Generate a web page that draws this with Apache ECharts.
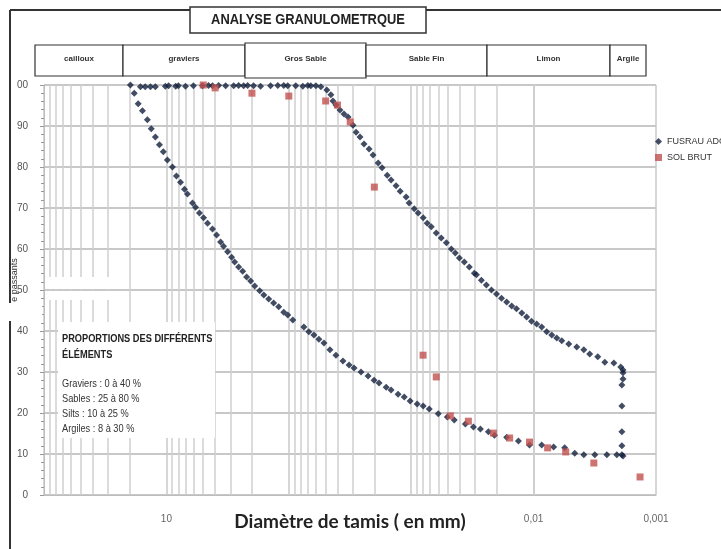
<!DOCTYPE html>
<html>
<head>
<meta charset="utf-8">
<script src="https://cdn.jsdelivr.net/npm/echarts@6/dist/echarts.min.js"></script>
<style>
html,body{margin:0;padding:0;background:#fff;}
#main{width:721px;height:549px;}
</style>
</head>
<body>
<div id="main"></div>
<script>
// diametre (mm) / % passants - FUSRAU ADOBE
var fusrauX = [
  19.7, 16.3, 14.9, 13.5, 12.3, 10.2, 9.6, 8.4, 7.98, 6.98, 6.01, 5.07, 4.53, 4.20, 3.75, 3.28,
  2.82, 2.57, 2.34, 2.17, 1.94, 1.70, 1.41, 1.23, 1.10, 1.02, 0.877, 0.768, 0.699, 0.661, 0.601, 0.547,
  0.489, 0.453, 0.436, 0.412, 0.382, 0.354, 0.328, 0.299, 0.282, 0.262, 0.243, 0.221, 0.205, 0.186,
  0.173, 0.157, 0.146, 0.133, 0.123, 0.110, 0.104, 0.0944, 0.0877, 0.0798, 0.0740, 0.0686, 0.0624,
  0.0568, 0.0516, 0.0470, 0.0436, 0.0404, 0.0368, 0.0335, 0.0305, 0.0293, 0.0267, 0.0243, 0.0221,
  0.0201, 0.0183, 0.0166, 0.0151, 0.0138, 0.0125, 0.0114, 0.0104, 0.00944, 0.00859, 0.00782, 0.00711,
  0.00647, 0.00589, 0.00516, 0.00444, 0.00389, 0.00348, 0.00299, 0.00262, 0.00221, 0.00194,
  0.00186, 0.00186, 0.00186, 0.0019, 0.0019, 0.0019, 0.0019, 0.0019, 0.00186,
  0.00209, 0.00252, 0.00316, 0.00389, 0.00461, 0.00557, 0.00686, 0.00859, 0.0108, 0.0133, 0.0166,
  0.0209, 0.0234, 0.0272, 0.0310, 0.0361, 0.0445, 0.0507, 0.0601, 0.0712, 0.0798, 0.0893, 0.102,
  0.114, 0.128, 0.146, 0.160, 0.183, 0.201, 0.225, 0.257, 0.293, 0.322, 0.361, 0.412, 0.461, 0.516,
  0.568, 0.624, 0.686, 0.753, 0.927, 1.02, 1.10, 1.21, 1.33, 1.46, 1.60, 1.73, 1.90, 2.05, 2.21,
  2.38, 2.57, 2.77, 2.93, 3.16, 3.41, 3.61, 3.89, 4.20, 4.61, 4.97, 5.37, 5.78, 6.12, 6.73, 7.11,
  7.67, 8.28, 8.93, 9.82, 10.6, 11.4, 12.3, 13.3, 14.3, 15.7, 17.0, 18.3
];
var fusrauY = [
  100, 99.6, 99.6, 99.6, 99.6, 99.7, 99.8, 99.7, 99.8, 99.7, 99.8, 99.8, 99.9, 99.8, 99.9, 99.8,
  99.8, 99.9, 99.8, 99.9, 99.8, 99.7, 99.8, 99.9, 99.9, 99.8, 99.8, 99.7, 99.9, 99.8, 99.8, 99.6,
  98.8, 97.6, 96.1, 95.1, 93.9, 92.9, 92.2, 90.2, 88.5, 87.3, 85.6, 84.4, 82.9, 81.0,
  79.8, 78.0, 76.8, 75.4, 74.1, 72.7, 71.2, 69.8, 68.8, 67.6, 66.3, 65.4, 63.9,
  62.7, 61.5, 60.0, 59.0, 57.8, 56.8, 55.6, 54.1, 53.7, 52.4, 51.2, 50.0,
  49.0, 48.0, 47.1, 46.1, 45.4, 44.4, 43.4, 42.4, 41.7, 41.0, 39.8, 39.0,
  38.3, 37.6, 36.8, 36.1, 35.4, 34.4, 33.7, 32.4, 32.2, 31.2,
  30.5, 29.8, 28.3, 26.8, 21.7, 15.4, 12.0, 9.8, 9.5,
  9.8, 9.8, 9.8, 9.8, 10.2, 11.5, 11.7, 12.2, 12.2, 13.2, 14.1,
  14.6, 15.4, 16.1, 16.6, 17.3, 18.3, 19.0, 19.8, 21.0, 21.7, 22.2, 22.9,
  23.9, 24.6, 25.6, 26.3, 27.3, 28.0, 29.0, 30.0, 31.0, 31.7, 32.7, 34.1, 35.4, 37.1,
  38.0, 39.0, 39.8, 41.0, 42.7, 43.9, 44.6, 45.9, 46.8, 47.8, 48.8, 49.8, 51.0, 52.2, 53.2,
  54.6, 55.6, 56.8, 58.0, 59.3, 60.7, 61.7, 63.4, 64.9, 66.3, 67.6, 68.8, 70.2, 71.2, 73.4, 74.6,
  76.3, 77.8, 80.0, 81.7, 83.7, 85.4, 87.3, 89.3, 91.5, 93.7, 95.4, 98.0
];

// SOL BRUT
var solX = [5.0, 4.0, 2.0, 1.0, 0.5, 0.4, 0.315, 0.2, 0.08, 0.0624, 0.0479, 0.0341, 0.0213,
  0.0157, 0.0108, 0.00768, 0.00547, 0.00322, 0.00135];
var solY = [100, 99.3, 98, 97.3, 96.1, 95.1, 91, 75.1, 34.1, 28.8, 19.3, 18, 15.1,
  13.9, 12.9, 11.5, 10.5, 7.8, 4.4];

var seriesNames = ['FUSRAU ADOBE', 'SOL BRUT'];
var xDecadeLabels = {'-3': '0,001', '-2': '0,01', '1': '10'};
var zoneNames = ['cailloux', 'graviers', 'Gros Sable', 'Sable Fin', 'Limon', 'Argile'];
var zoneEdges = [35, 123, 245, 366, 487, 610, 646];
var proportionLines = ['Graviers : 0 à 40 %', 'Sables : 25 à 80 %', 'Silts : 10 à 25 %', 'Argiles : 8 à 30 %'];

function zip(xs, ys) {
  var out = [];
  for (var i = 0; i < xs.length; i++) out.push([xs[i], ys[i]]);
  return out;
}

// lignes de grille secondaires (2..9 x 10^k)
var minorGrid = [];
for (var k = -3; k <= 1; k++) {
  for (var m = 2; m <= 9; m++) {
    minorGrid.push({xAxis: m * Math.pow(10, k)});
  }
}

var narrow = "'Liberation Sans Narrow', 'Liberation Sans', Arial, sans-serif";

var graphics = [
  {type: 'line', shape: {x1: 10, y1: 10, x2: 721, y2: 10}, style: {stroke: '#333', lineWidth: 2}, z: 50},
  {type: 'line', shape: {x1: 10, y1: 10, x2: 10, y2: 549}, style: {stroke: '#333', lineWidth: 2}, z: 50},
  {type: 'rect', shape: {x: 190, y: 7, width: 236, height: 26}, style: {fill: '#fff', stroke: '#333', lineWidth: 1.5}, z: 60},
  {type: 'text', x: 308, y: 20, scaleX: 0.86, style: {text: 'ANALYSE GRANULOMETRQUE', fill: '#222', font: 'bold 15px ' + narrow, textAlign: 'center', textVerticalAlign: 'middle'}, z: 61},
  // coupures blanches de l'image
  {type: 'rect', shape: {x: 0, y: 303, width: 42, height: 18}, style: {fill: '#fff'}, z: 55},
  {type: 'rect', shape: {x: 45, y: 277, width: 83, height: 12}, style: {fill: '#fff'}, z: 55},
  {type: 'rect', shape: {x: 45, y: 291, width: 83, height: 9}, style: {fill: '#fff'}, z: 55},
  {type: 'text', x: 15, y: 280, rotation: Math.PI / 2, style: {text: 'e passants', fill: '#333', font: '9px ' + narrow, textAlign: 'center', textVerticalAlign: 'middle'}, z: 56},
  // encadre des proportions
  {type: 'rect', shape: {x: 58, y: 322, width: 157, height: 116}, style: {fill: '#fff'}, z: 55},
  {type: 'text', x: 62, y: 331, scaleX: 0.84, style: {text: 'PROPORTIONS DES DIFFÉRENTS\nÉLÉMENTS', fill: '#222', font: 'bold 11px ' + narrow, lineHeight: 16}, z: 56},
  {type: 'text', x: 62, y: 376, scaleX: 0.84, style: {text: proportionLines.join('\n'), fill: '#333', font: '11px ' + narrow, lineHeight: 15}, z: 56}
];
zoneNames.forEach(function (nm, i) {
  var x0 = zoneEdges[i], x1 = zoneEdges[i + 1];
  var tall = nm === 'Gros Sable';
  graphics.push({type: 'rect', shape: {x: x0, y: tall ? 43 : 45, width: x1 - x0, height: tall ? 35 : 31},
    style: {fill: '#fff', stroke: '#333', lineWidth: 1.2}, z: 60});
  graphics.push({type: 'text', x: (x0 + x1) / 2, y: 59,
    style: {text: nm, fill: '#333', font: 'bold 8px ' + narrow, textAlign: 'center', textVerticalAlign: 'middle'}, z: 61});
});

var chart = echarts.init(document.getElementById('main'));
chart.setOption({
  backgroundColor: '#fff',
  animation: false,
  grid: {left: 44, right: 65, top: 85, bottom: 54, containLabel: false, outerBoundsMode: 'none'},
  legend: {
    orient: 'vertical', left: 650, top: 132, itemWidth: 7, itemHeight: 7, itemGap: 7,
    textStyle: {fontSize: 9, color: '#333', fontFamily: narrow},
    data: [{name: seriesNames[0], icon: 'diamond'}, {name: seriesNames[1], icon: 'rect'}]
  },
  xAxis: {
    type: 'log', logBase: 10, min: 0.001, max: 100, inverse: true,
    name: 'Diamètre de tamis ( en mm)', nameLocation: 'middle', nameGap: 17, nameMoveOverlap: false,
    nameTextStyle: {fontFamily: 'Lato', fontWeight: 'bold', fontSize: 19, color: '#222'},
    axisLine: {lineStyle: {color: '#bdbdbd'}},
    axisTick: {show: false},
    axisLabel: {
      color: '#666', fontSize: 10, margin: 19,
      formatter: function (v) {
        var e = Math.round(Math.log(v) / Math.LN10);
        return xDecadeLabels[String(e)] || '';
      }
    },
    splitLine: {show: true, lineStyle: {color: '#c8c8c8', width: 1.5}}
  },
  yAxis: {
    type: 'value', min: 0, max: 100, interval: 10,
    axisLine: {show: true, lineStyle: {color: '#bdbdbd'}},
    axisTick: {show: true, length: 4, lineStyle: {color: '#999'}},
    minorTick: {show: true, splitNumber: 5, length: 3, lineStyle: {color: '#999'}},
    axisLabel: {color: '#555', fontSize: 10, margin: 16,
      formatter: function (v) { return v === 100 ? '00' : String(v); }},
    splitLine: {show: true, lineStyle: {color: '#c8c8c8', width: 2}}
  },
  graphic: graphics,
  series: [
    {
      type: 'scatter', name: 'grille', data: [], silent: true, z: 1,
      markLine: {
        silent: true, symbol: 'none', label: {show: false}, z: 1,
        lineStyle: {color: '#cfcfcf', width: 1.5, type: 'solid'},
        data: minorGrid
      }
    },
    {
      type: 'scatter', name: seriesNames[0], symbol: 'diamond', symbolSize: 7, z: 3,
      itemStyle: {color: '#13213d'},
      data: zip(fusrauX, fusrauY)
    },
    {
      type: 'scatter', name: seriesNames[1], symbol: 'rect', symbolSize: 7, z: 4,
      itemStyle: {color: '#c0504d'},
      data: zip(solX, solY)
    }
  ]
});
</script>
</body>
</html>
